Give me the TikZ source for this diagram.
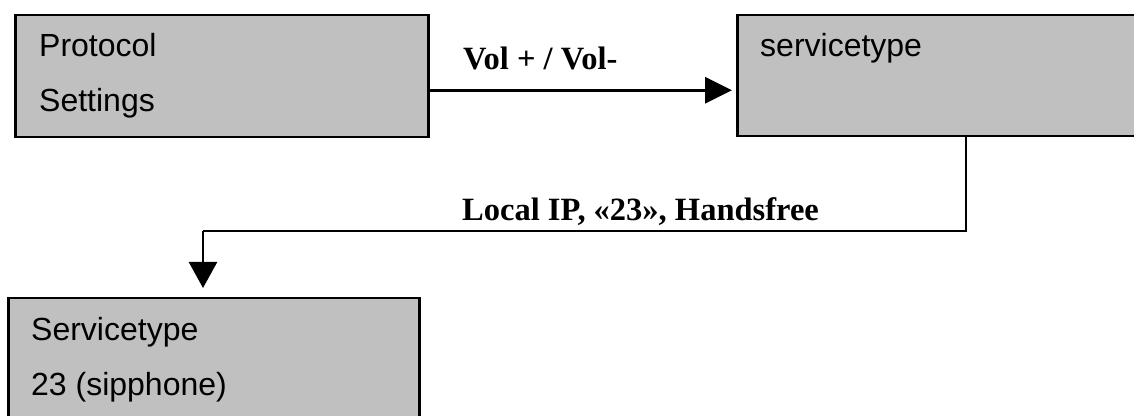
\documentclass[tikz,border=0pt]{standalone}
\usepackage{fontspec}
\setmainfont{Liberation Serif}
\newfontfamily\boxfont{Liberation Sans}
\usetikzlibrary{arrows.meta}
\definecolor{boxgray}{HTML}{C0C0C0}
\tikzset{
  box/.style={draw=black, line width=2.5pt, fill=boxgray, anchor=north west, inner sep=0pt},
  boxtext/.style={anchor=base west, inner sep=0pt, font=\boxfont\fontsize{32}{38}\selectfont},
  edgelabel/.style={anchor=base west, inner sep=0pt, font=\bfseries\fontsize{32.5}{39}\selectfont},
  thickarrow/.style={line width=3pt, -{Triangle[length=27pt,width=26pt]}},
  thinline/.style={line width=1.5pt},
  downarrow/.style={line width=2.5pt, -{Triangle[length=26pt,width=28pt]}}
}
\begin{document}
\begin{tikzpicture}[x=1pt,y=1pt]
\useasboundingbox (0,0) rectangle (1134,415);
% boxes
\node[box, minimum width=413pt, minimum height=122pt] (p) at (14,401) {};
\node[box, minimum width=420pt, minimum height=121pt] (s) at (736,401) {};
\node[box, minimum width=411pt, minimum height=130pt] (t) at (7,118) {};
% box texts
\node[boxtext] (p1) at ([xshift=25pt,yshift=-43pt]p.north west) {Protocol};
\node[boxtext] (p2) at ([xshift=25pt,yshift=-98pt]p.north west) {Settings};
\node[boxtext] (s1) at ([xshift=24pt,yshift=-43pt]s.north west) {servicetype};
\node[boxtext] (t1) at ([xshift=24pt,yshift=-43pt]t.north west) {Servicetype};
\node[boxtext] (t2) at ([xshift=24pt,yshift=-98pt]t.north west) {23 (sipphone)};
% connector 1
\draw[thickarrow, shorten >=4pt] ([yshift=-14pt]p.east) -- ([yshift=-14pt]p.east -| s.west);
\node[edgelabel] (l1) at (463,345) {Vol + / Vol-};
% connector 2
\coordinate (b1) at (966,184);
\coordinate (b2) at (203,184);
\draw[thinline] (s.south -| b1) -- (b1) -- (b2);
\draw[downarrow, shorten >=9pt] (b2) -- (b2 |- t.north);
\node[edgelabel] (l2) at (462,194) {Local IP, «23», Handsfree};
\end{tikzpicture}
\end{document}
